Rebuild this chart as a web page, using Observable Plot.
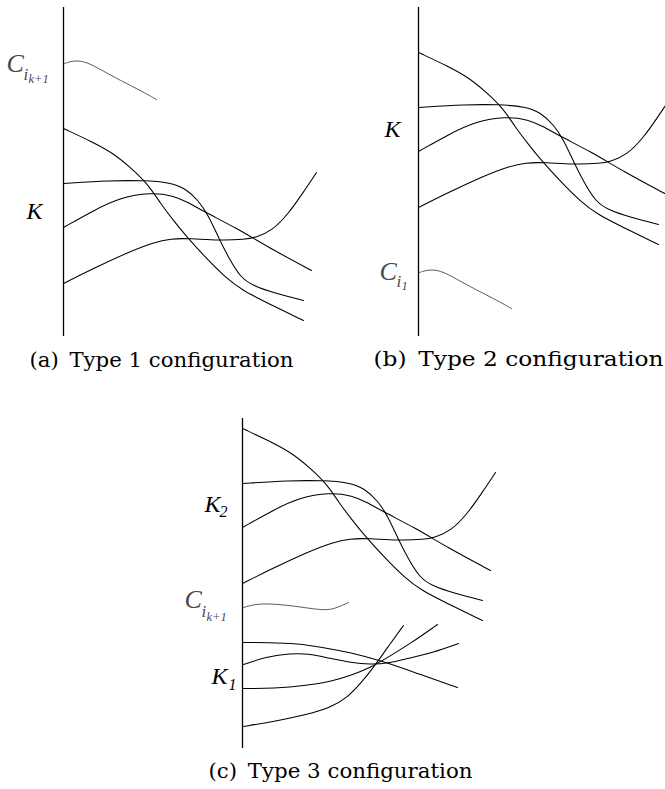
<!DOCTYPE html>
<html><head><meta charset="utf-8">
<script src="https://cdn.jsdelivr.net/npm/d3@7"></script>
<script src="https://cdn.jsdelivr.net/npm/@observablehq/plot@0.6"></script>
<style>body{margin:0;background:#fff}#chart svg{display:block}</style>
</head><body><div id="chart"></div>
<script>
// Cluster K curves: [distance from the vertical axis, vertical position in panel]
const kCurve1 = [[0,128],[30,142],[50,153],[67,167],[84,183],[97,203],[110,220],[122,235],[142,257],[162,277],[179,290],[205,303],[240,320]];
const kCurve2 = [[0,183],[47,180],[80,180],[107,182],[122,188],[135,200],[145,215],[155,237],[165,257],[177,277],[189,285],[212,293],[240,300]];
const kCurve3 = [[0,227],[30,210],[57,197],[87,192],[110,195],[125,202],[142,212],[172,227],[205,247],[248,270]];
const kCurve4 = [[0,283],[30,268],[64,252],[90,242],[107,238],[127,238],[155,240],[182,239],[192,237],[209,230],[225,213],[239,193],[253,172]];
// Single curves C
const cHump = [[1,63],[7,61],[14,60],[24,62],[37,69],[57,80],[77,90],[93,99]];
const cWave = [[1,307],[11,304],[25,303],[48,305],[68,308],[85,310],[95,307],[106,302]];
// Cluster K1 curves (panel c)
const k1Curve1 = [[1,342],[25,342],[55,343],[81,347],[108,352],[138,360],[175,373],[215,387]];
const k1Curve2 = [[1,364],[25,356],[48,353],[65,353],[88,358],[108,362],[128,364],[145,363],[165,358],[191,352],[216,343]];
const k1Curve3 = [[1,388],[31,388],[65,385],[88,381],[108,375],[128,367],[145,357],[168,343],[195,324]];
const k1Curve4 = [[1,426],[31,421],[65,414],[88,407],[105,397],[118,383],[131,367],[145,347],[161,325]];
const captions = ["(a)\u2002Type 1 configuration", "(b)\u2002Type 2 configuration", "(c)\u2002Type 3 configuration"];

// ---- layout ----
const panels = [
  {id:"a", axisX:63, shiftY:0, top:7, bottom:336},
  {id:"b", axisX:418, shiftY:-76, top:7, bottom:336},
  {id:"c", axisX:242, shiftY:300, top:418, bottom:748}
];
const P = Object.fromEntries(panels.map(p => [p.id, p]));
const kSet = [kCurve1, kCurve2, kCurve3, kCurve4];
const k1Set = [k1Curve1, k1Curve2, k1Curve3, k1Curve4];

const darkRows = [], greyRows = [];
function add(rows, pts, id, p, extraY = 0) {
  pts.forEach(([x, y]) => rows.push({id, x: p.axisX + x, y: y + p.shiftY + extraY}));
}
for (const p of panels) kSet.forEach((c, i) => add(darkRows, c, p.id + "k" + i, p));
k1Set.forEach((c, i) => add(darkRows, c, "ck1" + i, P.c));
add(greyRows, cHump, "aC", P.a);
add(greyRows, cHump, "bC", P.b, 285);
add(greyRows, cWave, "cC", P.c);

const grey = "#4a4a4a";
const mathFont = "'Liberation Serif', serif";
const labels = [
  {x:26, y:218, t:"K", s:24, c:"#000"},
  {x:6, y:71, t:"C", s:26, c:grey}, {x:23, y:79, t:"i", s:17, c:grey}, {x:28, y:82, t:"k+1", s:12.5, c:grey},
  {x:384, y:136, t:"K", s:24, c:"#000"},
  {x:379, y:279, t:"C", s:26, c:grey}, {x:396, y:286, t:"i", s:17, c:grey}, {x:401, y:289, t:"1", s:12.5, c:grey},
  {x:204, y:511, t:"K", s:24, c:"#000"}, {x:219, y:516, t:"2", s:16, c:"#000"},
  {x:184, y:607, t:"C", s:26, c:grey}, {x:201, y:616, t:"i", s:17, c:grey}, {x:206, y:620, t:"k+1", s:12.5, c:grey},
  {x:211, y:683, t:"K", s:24, c:"#000"}, {x:228, y:689, t:"1", s:16, c:"#000"}
];
const capLayout = [
  {x:29, y:366, len:264, s:20},
  {x:373, y:365, len:290, s:21},
  {x:208, y:777, len:264, s:20}
].map((d, i) => ({...d, t: captions[i]}));

const chart = Plot.plot({
  width: 665, height: 789, margin: 0,
  x: {type: "identity", axis: null}, y: {type: "identity", axis: null},
  marks: [
    Plot.ruleX(panels, {x: "axisX", y1: "top", y2: "bottom", stroke: "#000", strokeWidth: 1.3}),
    Plot.line(darkRows, {x: "x", y: "y", z: "id", curve: "basis", stroke: "#000", strokeWidth: 1.05}),
    Plot.line(greyRows, {x: "x", y: "y", z: "id", curve: "basis", stroke: grey, strokeWidth: 0.9}),
    Plot.text(labels, {x: "x", y: "y", text: "t", fontSize: d => d.s, fill: "c", textAnchor: "start", lineAnchor: "bottom", fontFamily: mathFont, fontStyle: "italic"}),
    Plot.text(capLayout, {x: "x", y: "y", text: "t", fontSize: d => d.s, fill: "#000", textAnchor: "start", lineAnchor: "bottom", fontFamily: "'DejaVu Serif', serif"})
  ]
});
document.getElementById("chart").append(chart);
// fit caption widths
d3.select(chart).selectAll("text").each(function() {
  const c = capLayout.find(d => d.t === this.textContent);
  if (c) { this.setAttribute("textLength", c.len); this.setAttribute("lengthAdjust", "spacingAndGlyphs"); }
});
</script>
</body></html>
